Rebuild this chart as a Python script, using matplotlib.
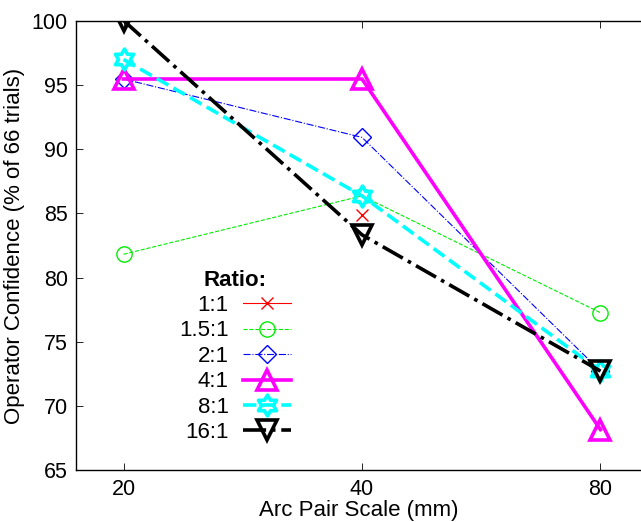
import numpy as np
import matplotlib
matplotlib.use("Agg")
import matplotlib.pyplot as plt
from matplotlib.path import Path

plt.rcParams['font.family'] = ['Liberation Sans', 'DejaVu Sans']

# data (percent of 66 trials)
scales = [20, 40, 80]
ratios = ['1:1', '1.5:1', '2:1', '4:1', '8:1', '16:1']
r_1_1 = [np.nan, 84.85, np.nan]
r_1_5_1 = [81.82, 86.36, 77.27]
r_2_1 = [95.45, 90.91, 72.73]
r_4_1 = [95.45, 95.45, 68.18]
r_8_1 = [96.97, 86.36, 72.73]
r_16_1 = [100.0, 83.33, 72.73]
series = [r_1_1, r_1_5_1, r_2_1, r_4_1, r_8_1, r_16_1]

# six-point star marker
ang = np.pi / 2 + np.arange(12) * np.pi / 6
rad = np.where(np.arange(12) % 2 == 0, 1.0, 1 / np.sqrt(3))
hexagram = Path(np.column_stack([rad * np.cos(ang), rad * np.sin(ang)]).tolist() + [[0, 1]], closed=True)

styles = [
    dict(color='#ff0000', ls='-', lw=0.8, marker='x', ms=9, mew=1.0),
    dict(color='#00ee00', ls='--', lw=0.8, marker='o', ms=11, mew=1.0),
    dict(color='#0000ff', ls='-.', lw=0.8, marker='D', ms=9, mew=1.0),
    dict(color='#ff00ff', ls='-', lw=2.6, marker='^', ms=14, mew=2.6),
    dict(color='#00ffff', ls='--', lw=2.6, marker=hexagram, ms=15, mew=2.6),
    dict(color='#000000', ls='-.', lw=2.6, marker='v', ms=14, mew=2.6),
]

fig = plt.figure(figsize=(6.41, 5.22), dpi=100)
ax = fig.add_axes([0.1186, 0.0987, 0.8814, 0.862])

for name, vals, st in zip(ratios, series, styles):
    ax.plot(scales, vals, label=name, mfc='none', **st)

ax.set_xscale('log')
ax.set_xlim(17.42, 90.0)
ax.set_ylim(65, 100)
ax.set_xticks(scales)
ax.set_xticklabels([str(s) for s in scales])
ax.xaxis.set_minor_locator(matplotlib.ticker.NullLocator())
ax.set_yticks(np.arange(65, 101, 5))
ax.tick_params(direction='in', length=5, width=0.6, labelsize=15.5, top=True)
ax.tick_params(axis='x', pad=6)
ax.tick_params(axis='y', pad=6)
ax.spines['right'].set_visible(False)
for s in ['left', 'bottom', 'top']:
    ax.spines[s].set_linewidth(1.0)

ax.set_xlabel('Arc Pair Scale (mm)', fontsize=16, labelpad=0)
ax.set_ylabel('Operator Confidence (% of 66 trials)', fontsize=16, labelpad=5)

leg = ax.legend(loc='upper left', bbox_to_anchor=(0.262, 0.505), bbox_transform=fig.transFigure,
                frameon=False, markerfirst=False, fontsize=16, handlelength=2.15,
                labelspacing=0.2, handletextpad=0.65, borderpad=0,
                title='Ratio:', title_fontproperties={'weight': 'bold', 'size': 16})

fig.savefig('out.png', dpi=100)
